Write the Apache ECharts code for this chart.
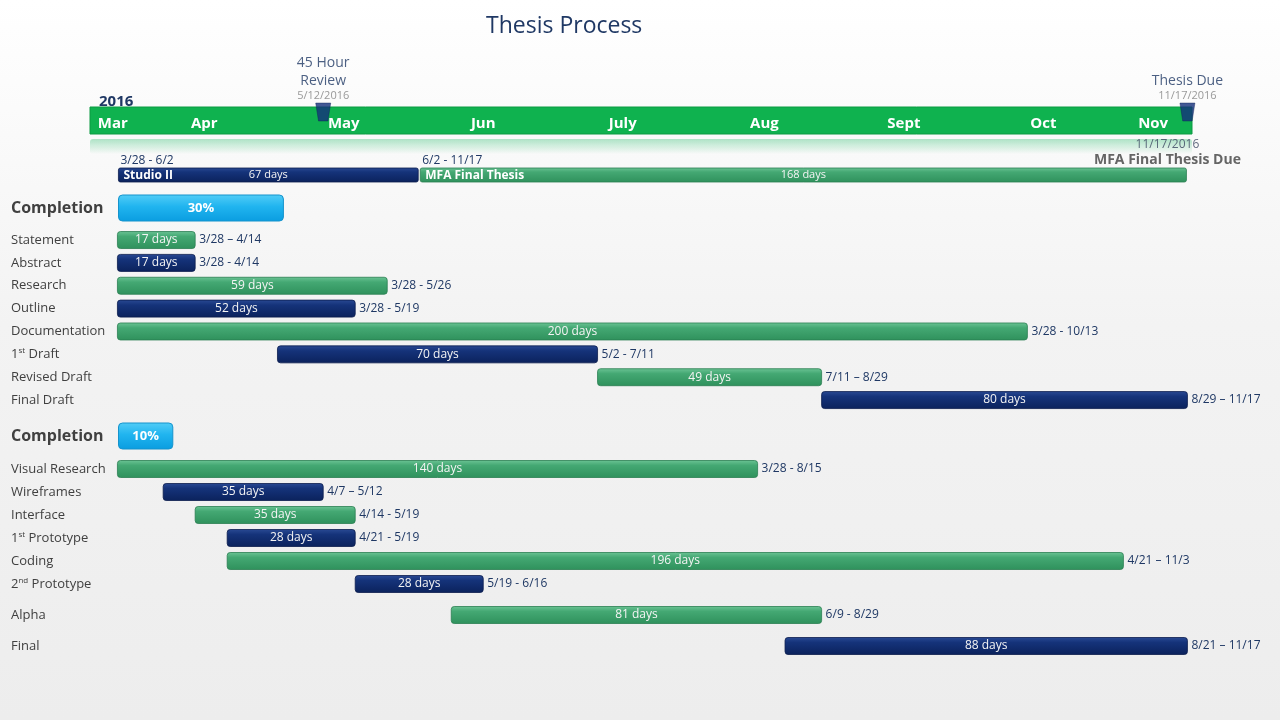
<!DOCTYPE html>
<html>
<head>
<meta charset="utf-8">
<script src="https://cdn.jsdelivr.net/npm/echarts@6/dist/echarts.min.js"></script>
<style>
  html, body { margin: 0; padding: 0; }
  body { background: linear-gradient(to bottom, #ffffff 0%, #f3f3f3 45%, #ededed 100%); }
  #chart { width: 1280px; height: 720px; }
</style>
</head>
<body>
<div id="chart"></div>
<script>
// ---------------- DATA ----------------
const chartTitle = 'Thesis Process';
const yearLabel = '2016';
const monthLabels = ['Mar', 'Apr', 'May', 'Jun', 'July', 'Aug', 'Sept', 'Oct', 'Nov'];
const axisStart = '2016-03-22';
const axisEnd = '2016-11-18';

const milestoneNames = ['45 Hour\nReview', 'Thesis Due'];
const milestoneDates = ['2016-05-12', '2016-11-17'];
const milestoneDateLabels = ['5/12/2016', '11/17/2016'];
const dueName = 'MFA Final Thesis Due';
const dueDate = '2016-11-17';
const dueDateLabel = '11/17/2016';

const phaseNames = ['Studio II', 'MFA Final Thesis'];
const phaseStart = ['2016-03-28', '2016-06-02'];
const phaseEnd = ['2016-06-02', '2016-11-17'];
const phaseDays = [67, 168];
const phaseRanges = ['3/28 - 6/2', '6/2 - 11/17'];

const completionLabel = 'Completion';
const completion1 = 30;
const completion2 = 10;

const group1Tasks = ['Statement', 'Abstract', 'Research', 'Outline', 'Documentation', '1st Draft', 'Revised Draft', 'Final Draft'];
const group1Start = ['2016-03-28', '2016-03-28', '2016-03-28', '2016-03-28', '2016-03-28', '2016-05-02', '2016-07-11', '2016-08-29'];
const group1End = ['2016-04-14', '2016-04-14', '2016-05-26', '2016-05-19', '2016-10-13', '2016-07-11', '2016-08-29', '2016-11-17'];
const group1Days = [17, 17, 59, 52, 200, 70, 49, 80];
const group1Ranges = ['3/28 \u2013 4/14', '3/28 - 4/14', '3/28 - 5/26', '3/28 - 5/19', '3/28 - 10/13', '5/2 - 7/11', '7/11 \u2013 8/29', '8/29 \u2013 11/17'];

const group2Tasks = ['Visual Research', 'Wireframes', 'Interface', '1st Prototype', 'Coding', '2nd Prototype', 'Alpha', 'Final'];
const group2Start = ['2016-03-28', '2016-04-07', '2016-04-14', '2016-04-21', '2016-04-21', '2016-05-19', '2016-06-09', '2016-08-21'];
const group2End = ['2016-08-15', '2016-05-12', '2016-05-19', '2016-05-19', '2016-11-03', '2016-06-16', '2016-08-29', '2016-11-17'];
const group2Days = [140, 35, 35, 28, 196, 28, 81, 88];
const group2Ranges = ['3/28 - 8/15', '4/7 \u2013 5/12', '4/14 - 5/19', '4/21 - 5/19', '4/21 \u2013 11/3', '5/19 - 6/16', '6/9 - 8/29', '8/21 \u2013 11/17'];

// ---------------- HELPERS ----------------
function t(s) { const p = s.split('-').map(Number); return new Date(p[0], p[1] - 1, p[2]).getTime(); }
const xMin = t(axisStart), xMax = t(axisEnd);
const FONT = 'Open Sans';
const NAVY_TEXT = '#1f3864';

// centre of the visible part of each month, for the month names on the band
const monthCenters = monthLabels.map((_, i) => {
  const a = Math.max(xMin, new Date(2016, 2 + i, 1).getTime());
  const b = Math.min(xMax, new Date(2016, 3 + i, 1).getTime());
  return (a + b) / 2;
});

function grad(stops) {
  return new echarts.graphic.LinearGradient(0, 0, 0, 1, stops.map(c => ({ offset: c[0], color: c[1] })));
}
const greenFill = () => grad([[0, '#6cc495'], [0.3, '#44a873'], [1, '#2f915c']]);
const navyFill = () => grad([[0, '#2a4a94'], [0.3, '#15337a'], [1, '#0b225c']]);
const cyanFill = () => grad([[0, '#52cdf7'], [0.45, '#20b4ef'], [1, '#0a9de0']]);

function taskRenderer(days, ranges, offset) {
  return function (params, api) {
    const i = params.dataIndex;
    const row = api.value(0);
    const s = api.coord([api.value(1), row]);
    const e = api.coord([api.value(2), row]);
    const h = 17;
    const green = (i + offset) % 2 === 0;
    return {
      type: 'group',
      children: [
        {
          type: 'rect',
          shape: { x: s[0], y: s[1] - h / 2, width: e[0] - s[0], height: h, r: 3 },
          style: { fill: green ? greenFill() : navyFill(), stroke: green ? '#2a7d50' : '#0a1c4c', lineWidth: 0.8 }
        },
        {
          type: 'text',
          style: { text: days[i] + ' days', x: (s[0] + e[0]) / 2, y: s[1], align: 'center', verticalAlign: 'middle',
            fill: '#f4f4f4', fontSize: 12, fontFamily: FONT }
        },
        {
          type: 'text',
          style: { text: ranges[i], x: e[0] + 4, y: s[1], align: 'left', verticalAlign: 'middle',
            fill: NAVY_TEXT, fontSize: 12, fontFamily: FONT }
        }
      ]
    };
  };
}

function phaseRenderer(params, api) {
  const i = params.dataIndex;
  const s = api.coord([api.value(1), 0]);
  const e = api.coord([api.value(2), 0]);
  const h = 14;
  const green = i % 2 === 1;
  return {
    type: 'group',
    children: [
      {
        type: 'rect',
        shape: { x: s[0] + 1, y: s[1] - h / 2, width: e[0] - s[0] - 2, height: h, r: 2 },
        style: { fill: green ? greenFill() : navyFill(), stroke: green ? '#2a7d50' : '#0a1c4c', lineWidth: 0.8 }
      },
      {
        type: 'text',
        style: { text: phaseNames[i], x: s[0] + 6, y: s[1] + 1, align: 'left', verticalAlign: 'middle',
          fill: '#ffffff', fontSize: 12, fontWeight: 'bold', fontFamily: FONT }
      },
      {
        type: 'text',
        style: { text: phaseDays[i] + ' days', x: (s[0] + e[0]) / 2, y: s[1], align: 'center', verticalAlign: 'middle',
          fill: '#f4f4f4', fontSize: 11, fontFamily: FONT }
      },
      {
        type: 'text',
        style: { text: phaseRanges[i], x: s[0] + 3, y: s[1] - h / 2 - 1, align: 'left', verticalAlign: 'bottom',
          fill: NAVY_TEXT, fontSize: 12, fontFamily: FONT }
      }
    ]
  };
}

function supLabel(v) { return v.replace(/^(\d)(st|nd|rd|th)/, '$1{sup|$2}'); }

function taskYAxis(gridIndex, cats) {
  return {
    type: 'category', gridIndex: gridIndex, data: cats, inverse: true,
    axisLine: { show: false }, axisTick: { show: false }, splitLine: { show: false },
    axisLabel: {
      align: 'left', margin: 79, color: '#404040', fontSize: 13, fontFamily: FONT,
      formatter: supLabel,
      rich: { sup: { fontSize: 8, color: '#404040', fontFamily: FONT, padding: [0, 0, 7, 0] } }
    }
  };
}
function completionYAxis(gridIndex) {
  return {
    type: 'category', gridIndex: gridIndex, data: [completionLabel],
    axisLine: { show: false }, axisTick: { show: false }, splitLine: { show: false },
    axisLabel: { align: 'left', margin: 107, color: '#404040', fontSize: 16, fontWeight: 'bold', fontFamily: FONT }
  };
}
function hiddenTimeX(gridIndex) {
  return { type: 'value', gridIndex: gridIndex, min: xMin, max: xMax, show: false };
}
function hiddenPctX(gridIndex) {
  return { type: 'value', gridIndex: gridIndex, min: 0, max: 100, show: false };
}
function completionSeries(idx, value) {
  return {
    type: 'bar', xAxisIndex: idx, yAxisIndex: idx, data: [value], barWidth: 27,
    itemStyle: { color: cyanFill(), borderRadius: 4, borderColor: '#1593cc', borderWidth: 1 },
    label: { show: true, position: 'inside', formatter: '{c}%', color: '#ffffff', fontWeight: 'bold', fontSize: 13, fontFamily: FONT }
  };
}

// ---------------- CHART ----------------
const chart = echarts.init(document.getElementById('chart'));
const L = 90, R = 88;

const option = {
  backgroundColor: 'transparent',
  animation: false,
  title: [
    { text: chartTitle, left: 481, top: 10, textStyle: { color: NAVY_TEXT, fontSize: 23, fontWeight: 'normal', fontFamily: FONT } },
    { text: yearLabel, left: 94, top: 89, textStyle: { color: NAVY_TEXT, fontSize: 15, fontWeight: 'bold', fontFamily: FONT } }
  ],
  graphic: [
    { type: 'rect', left: L, top: 139, z: -1, silent: true,
      shape: { width: 1280 - L - R, height: 15, r: 3 },
      style: { fill: grad([[0, 'rgba(0,176,80,0.30)'], [0.5, 'rgba(0,176,80,0.15)'], [1, 'rgba(0,176,80,0.0)']]) } }
  ],
  grid: [
    { left: L, right: R, top: 107, height: 27, show: true, backgroundColor: '#0fb24f', borderColor: '#0c9a43', borderWidth: 1 },
    { left: L, right: R, top: 168, height: 14 },
    { left: 118, right: 609, top: 194, height: 28 },
    { left: L, right: R, top: 228.6, height: 182.9 },
    { left: 118, right: 609, top: 422, height: 28 },
    { left: L, right: R, top: 457.5, height: 138 },
    { left: L, right: R, top: 599.5, height: 62 }
  ],
  xAxis: [
    {
      type: 'value', gridIndex: 0, min: xMin, max: xMax,
      axisLine: { show: false }, axisTick: { show: false }, splitLine: { show: false },
      axisLabel: {
        inside: true, margin: 10, verticalAlign: 'middle', color: '#ffffff', fontSize: 15, fontWeight: 'bold', fontFamily: FONT,
        customValues: monthCenters, hideOverlap: false, showMinLabel: true, showMaxLabel: true,
        formatter: v => monthLabels[new Date(v).getMonth() - 2]
      }
    },
    hiddenTimeX(1),
    hiddenPctX(2),
    hiddenTimeX(3),
    hiddenPctX(4),
    hiddenTimeX(5),
    hiddenTimeX(6)
  ],
  yAxis: [
    { type: 'value', gridIndex: 0, min: 0, max: 1, show: false },
    { type: 'category', gridIndex: 1, data: ['Phase'], show: false },
    completionYAxis(2),
    taskYAxis(3, group1Tasks),
    completionYAxis(4),
    taskYAxis(5, group2Tasks.slice(0, 6)),
    taskYAxis(6, group2Tasks.slice(6))
  ],
  series: [
    {
      type: 'scatter', xAxisIndex: 0, yAxisIndex: 0, clip: false, z: 5,
      symbol: 'path://M0,0 L16,0 L13,18 L3,18 Z', symbolSize: [15, 18], symbolOffset: [0, 5],
      itemStyle: { color: '#14307a', borderColor: '#0b1f55', borderWidth: 0.5 },
      data: milestoneDates.map(d => [t(d), 1]),
      label: {
        show: true, position: 'top', distance: 0,
        formatter: p => milestoneNames[p.dataIndex].split('\n').map(s => '{n|' + s + '}').join('\n') + '\n{d|' + milestoneDateLabels[p.dataIndex] + '}',
        rich: {
          n: { fontSize: 14, color: NAVY_TEXT, lineHeight: 18, fontFamily: FONT, align: 'center' },
          d: { fontSize: 11, color: '#7f7f7f', lineHeight: 13, fontFamily: FONT, align: 'center' }
        }
      }
    },
    {
      type: 'scatter', xAxisIndex: 0, yAxisIndex: 0, clip: false, symbolSize: 0,
      data: [[t(dueDate), 0]],
      label: {
        show: true, position: 'bottom', distance: 4, offset: [-20, 0],
        formatter: '{d|' + dueDateLabel + '}\n{b|' + dueName + '}',
        rich: {
          d: { fontSize: 12, color: '#3a4660', lineHeight: 14, fontFamily: FONT, align: 'center' },
          b: { fontSize: 14, color: '#404040', fontWeight: 'bold', lineHeight: 17, fontFamily: FONT, align: 'center' }
        }
      }
    },
    {
      type: 'custom', xAxisIndex: 1, yAxisIndex: 1, renderItem: phaseRenderer,
      encode: { x: [1, 2], y: 0 },
      data: phaseNames.map((n, i) => [0, t(phaseStart[i]), t(phaseEnd[i])])
    },
    completionSeries(2, completion1),
    {
      type: 'custom', xAxisIndex: 3, yAxisIndex: 3, renderItem: taskRenderer(group1Days, group1Ranges, 0),
      encode: { x: [1, 2], y: 0 },
      data: group1Tasks.map((n, i) => [i, t(group1Start[i]), t(group1End[i])])
    },
    completionSeries(4, completion2),
    {
      type: 'custom', xAxisIndex: 5, yAxisIndex: 5, renderItem: taskRenderer(group2Days.slice(0, 6), group2Ranges.slice(0, 6), 0),
      encode: { x: [1, 2], y: 0 },
      data: group2Tasks.slice(0, 6).map((n, i) => [i, t(group2Start[i]), t(group2End[i])])
    },
    {
      type: 'custom', xAxisIndex: 6, yAxisIndex: 6, renderItem: taskRenderer(group2Days.slice(6), group2Ranges.slice(6), 0),
      encode: { x: [1, 2], y: 0 },
      data: group2Tasks.slice(6).map((n, i) => [i, t(group2Start[6 + i]), t(group2End[6 + i])])
    }
  ]
};
chart.setOption(option);
</script>
</body>
</html>
